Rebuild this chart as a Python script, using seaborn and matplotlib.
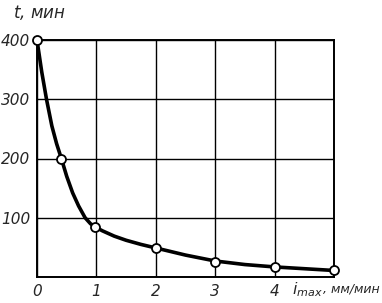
import numpy as np
import pandas as pd
import matplotlib
matplotlib.use("Agg")
import matplotlib.pyplot as plt
import seaborn as sns

# measured points (markers)
pts_x = [0, 0.41, 0.97, 2, 3, 4, 5]
pts_y = [400, 200, 85, 49, 26, 17, 11]

# curve
curve_x = [0, 0.08, 0.16, 0.25, 0.33, 0.41, 0.5, 0.6, 0.7, 0.81, 0.9, 0.97, 1.1, 1.3, 1.5, 1.75, 2, 2.5, 3, 3.5, 4, 4.5, 5]
curve_y = [400, 346, 300, 255, 225, 200, 170, 142, 120, 100, 90, 85, 78, 69, 62, 55, 49, 37, 27, 21, 17, 14, 11]

x_ticks = [0, 1, 2, 3, 4]
y_ticks = [100, 200, 300, 400]

sns.set_style("white")
plt.rcParams['font.family'] = ['DejaVu Sans']

fig = plt.figure(figsize=(3.82, 3.03), dpi=100)
ax = fig.add_axes([37/382, 1-277/303, (334-37)/382, (277-40)/303])

df_c = pd.DataFrame({"x": curve_x, "y": curve_y})
df_p = pd.DataFrame({"x": pts_x, "y": pts_y})
sns.lineplot(data=df_c, x="x", y="y", ax=ax, color="black", linewidth=2.6, zorder=3)
sns.scatterplot(data=df_p, x="x", y="y", ax=ax, color="white", edgecolor="black",
                linewidth=1.3, s=42, zorder=4, clip_on=False)

ax.set_xlim(0, 5)
ax.set_ylim(0, 400)
ax.set_xticks([0, 1, 2, 3, 4, 5])
ax.set_yticks([0, 100, 200, 300, 400])
ax.grid(True, color="black", linewidth=1.0)
ax.set_xticklabels([str(t) for t in x_ticks] + [""], fontsize=11, style="italic")
ax.set_yticklabels([""] + [str(t) for t in y_ticks], fontsize=11, style="italic")
ax.tick_params(length=0, pad=5)
for s in ax.spines.values():
    s.set_color("black")
    s.set_linewidth(1.4)
ax.set_xlabel("")
ax.set_ylabel("")

fig.text(13/382, 1-12/303, r"$t$, мин", fontsize=12, style="italic", va="center", ha="left")
t1 = fig.text(292/382, 1-290/303, r"$i_{max}$", fontsize=11.5, va="center", ha="left")
fig.canvas.draw()
bb = t1.get_window_extent(fig.canvas.get_renderer())
fig.text(bb.x1/382 + 0.5/382, 1-289/303, ", мм/мин", fontsize=9, style="italic",
         va="center", ha="left")

fig.savefig("out.png", dpi=100)
